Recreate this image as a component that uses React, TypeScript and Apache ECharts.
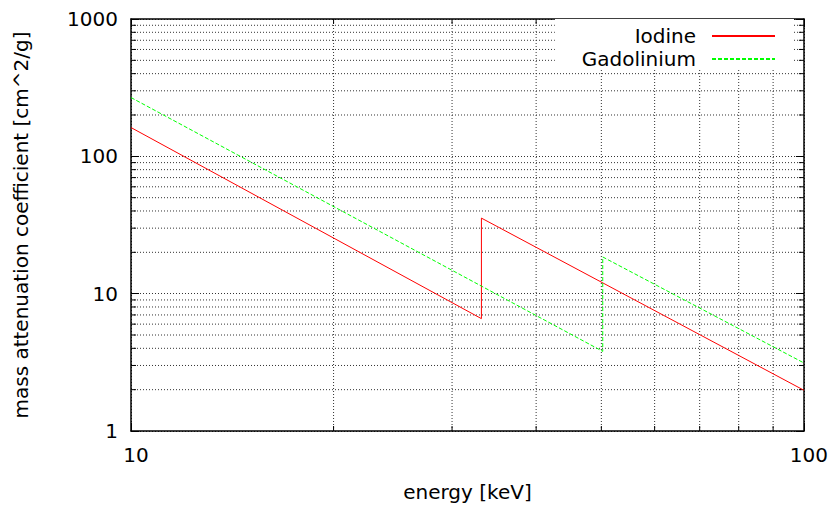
import React, { useEffect, useRef } from "react";
import * as echarts from "echarts";

// Mass attenuation coefficients [cm^2/g] against photon energy [keV]
const energyRange = [10, 100];
const muRange = [1, 1000];

const iodineEnergy = [10, 33.17, 33.17, 100];
const iodineMu = [162, 6.58, 35.5, 1.98];

const gadoliniumEnergy = [10, 50.24, 50.24, 100];
const gadoliniumMu = [268, 3.8, 18.5, 3.13];

// Minor (2..9 per decade) tick values of the log axes
const minorEnergyTicks = [20, 30, 40, 50, 60, 70, 80, 90];
const minorMuTicks = [2, 3, 4, 5, 6, 7, 8, 9, 20, 30, 40, 50, 60, 70, 80, 90, 200, 300, 400, 500, 600, 700, 800, 900];

const FONT = "DejaVu Sans";
const GRID_COLOR = "#333";
const DOT = [1, 2];
const MAJOR_TICK = 8;
const MINOR_TICK = 5;

export default function App() {
  const ref = useRef<HTMLDivElement>(null);

  useEffect(() => {
    if (!ref.current) return;
    const chart = echarts.init(ref.current, undefined, { renderer: "svg" });

    const pairs = (xs: number[], ys: number[]) => xs.map((x, i) => [x, ys[i]]);
    const plain = (v: number) => String(v);

    const baseX = {
      type: "log" as const,
      min: energyRange[0],
      max: energyRange[1],
      axisLine: { show: true, lineStyle: { color: "#000", width: 1.5 } },
      axisTick: { show: true, inside: true, length: MAJOR_TICK, lineStyle: { color: "#000" } },
    };
    const baseY = {
      type: "log" as const,
      min: muRange[0],
      max: muRange[1],
      axisLine: { show: true, lineStyle: { color: "#000", width: 1.5 } },
      axisTick: { show: true, inside: true, length: MAJOR_TICK, lineStyle: { color: "#000" } },
    };

    chart.setOption({
      animation: false,
      backgroundColor: "#fff",
      textStyle: { fontFamily: FONT },
      grid: { left: 131, right: 27, top: 19, height: 412 },
      legend: {
        data: ["Iodine", "Gadolinium"],
        orient: "vertical",
        right: 37,
        top: 19,
        align: "right",
        padding: [6, 18, 0, 27],
        itemWidth: 63,
        itemHeight: 23,
        itemGap: 1,
        backgroundColor: "#fff",
        selectedMode: false,
        itemStyle: { opacity: 0 },
        textStyle: { fontFamily: FONT, fontSize: 20, lineHeight: 22, color: "#000", padding: [0, 11, 0, 0] },
      },
      xAxis: [
        {
          ...baseX,
          position: "bottom",
          name: "energy [keV]",
          nameLocation: "middle",
          nameGap: 51,
          nameTextStyle: { fontFamily: FONT, fontSize: 20, color: "#000" },
          axisLabel: { fontFamily: FONT, fontSize: 20, color: "#000", margin: 14, padding: [0, 0, 0, 10], formatter: plain },
          splitLine: { show: true, lineStyle: { color: GRID_COLOR, type: DOT, width: 1 } },
        },
        {
          ...baseX,
          position: "top",
          axisLabel: { show: false },
          splitLine: { show: false },
        },
      ],
      yAxis: [
        {
          ...baseY,
          position: "left",
          name: "mass attenuation coefficient [cm^2/g]",
          nameLocation: "middle",
          nameGap: 100,
          nameTextStyle: { fontFamily: FONT, fontSize: 20, color: "#000" },
          axisLabel: { fontFamily: FONT, fontSize: 20, color: "#000", margin: 13, formatter: plain },
          splitLine: { show: true, lineStyle: { color: GRID_COLOR, type: DOT, width: 1 } },
        },
        {
          ...baseY,
          position: "right",
          axisLabel: { show: false },
          splitLine: { show: false },
        },
      ],
      series: [
        {
          // minor energy grid lines with their ticks on the bottom and top borders
          type: "custom",
          silent: true,
          z: 1,
          data: minorEnergyTicks.map((e) => [e, muRange[0]]),
          renderItem: (_params: any, api: any) => {
            const v = api.value(0);
            const b = api.coord([v, muRange[0]]);
            const t = api.coord([v, muRange[1]]);
            return {
              type: "group",
              children: [
                { type: "line", shape: { x1: b[0], y1: b[1], x2: t[0], y2: t[1] }, style: { stroke: GRID_COLOR, lineWidth: 1, lineDash: DOT } },
                { type: "line", shape: { x1: b[0], y1: b[1], x2: b[0], y2: b[1] - MINOR_TICK }, style: { stroke: "#000", lineWidth: 1 } },
                { type: "line", shape: { x1: t[0], y1: t[1], x2: t[0], y2: t[1] + MINOR_TICK }, style: { stroke: "#000", lineWidth: 1 } },
              ],
            };
          },
        },
        {
          // minor attenuation grid lines with their ticks on the left and right borders
          type: "custom",
          silent: true,
          z: 1,
          data: minorMuTicks.map((m) => [energyRange[0], m]),
          renderItem: (_params: any, api: any) => {
            const v = api.value(1);
            const l = api.coord([energyRange[0], v]);
            const r = api.coord([energyRange[1], v]);
            return {
              type: "group",
              children: [
                { type: "line", shape: { x1: l[0], y1: l[1], x2: r[0], y2: r[1] }, style: { stroke: GRID_COLOR, lineWidth: 1, lineDash: DOT } },
                { type: "line", shape: { x1: l[0], y1: l[1], x2: l[0] + MINOR_TICK, y2: l[1] }, style: { stroke: "#000", lineWidth: 1 } },
                { type: "line", shape: { x1: r[0], y1: r[1], x2: r[0] - MINOR_TICK, y2: r[1] }, style: { stroke: "#000", lineWidth: 1 } },
              ],
            };
          },
        },
        {
          name: "Iodine",
          type: "line",
          z: 3,
          symbol: "none",
          showSymbol: false,
          data: pairs(iodineEnergy, iodineMu),
          lineStyle: { color: "#ff0000", width: 1 },
          itemStyle: { color: "#ff0000" },
        },
        {
          name: "Gadolinium",
          type: "line",
          z: 3,
          symbol: "none",
          showSymbol: false,
          data: pairs(gadoliniumEnergy, gadoliniumMu),
          lineStyle: { color: "#00ff00", width: 1, type: [4, 2] },
          itemStyle: { color: "#00ff00" },
        },
      ],
    });

    return () => chart.dispose();
  }, []);

  return (
    <div
      ref={ref}
      style={{ position: "absolute", left: 0, top: 0, width: 831, height: 510, background: "#fff" }}
    />
  );
}
